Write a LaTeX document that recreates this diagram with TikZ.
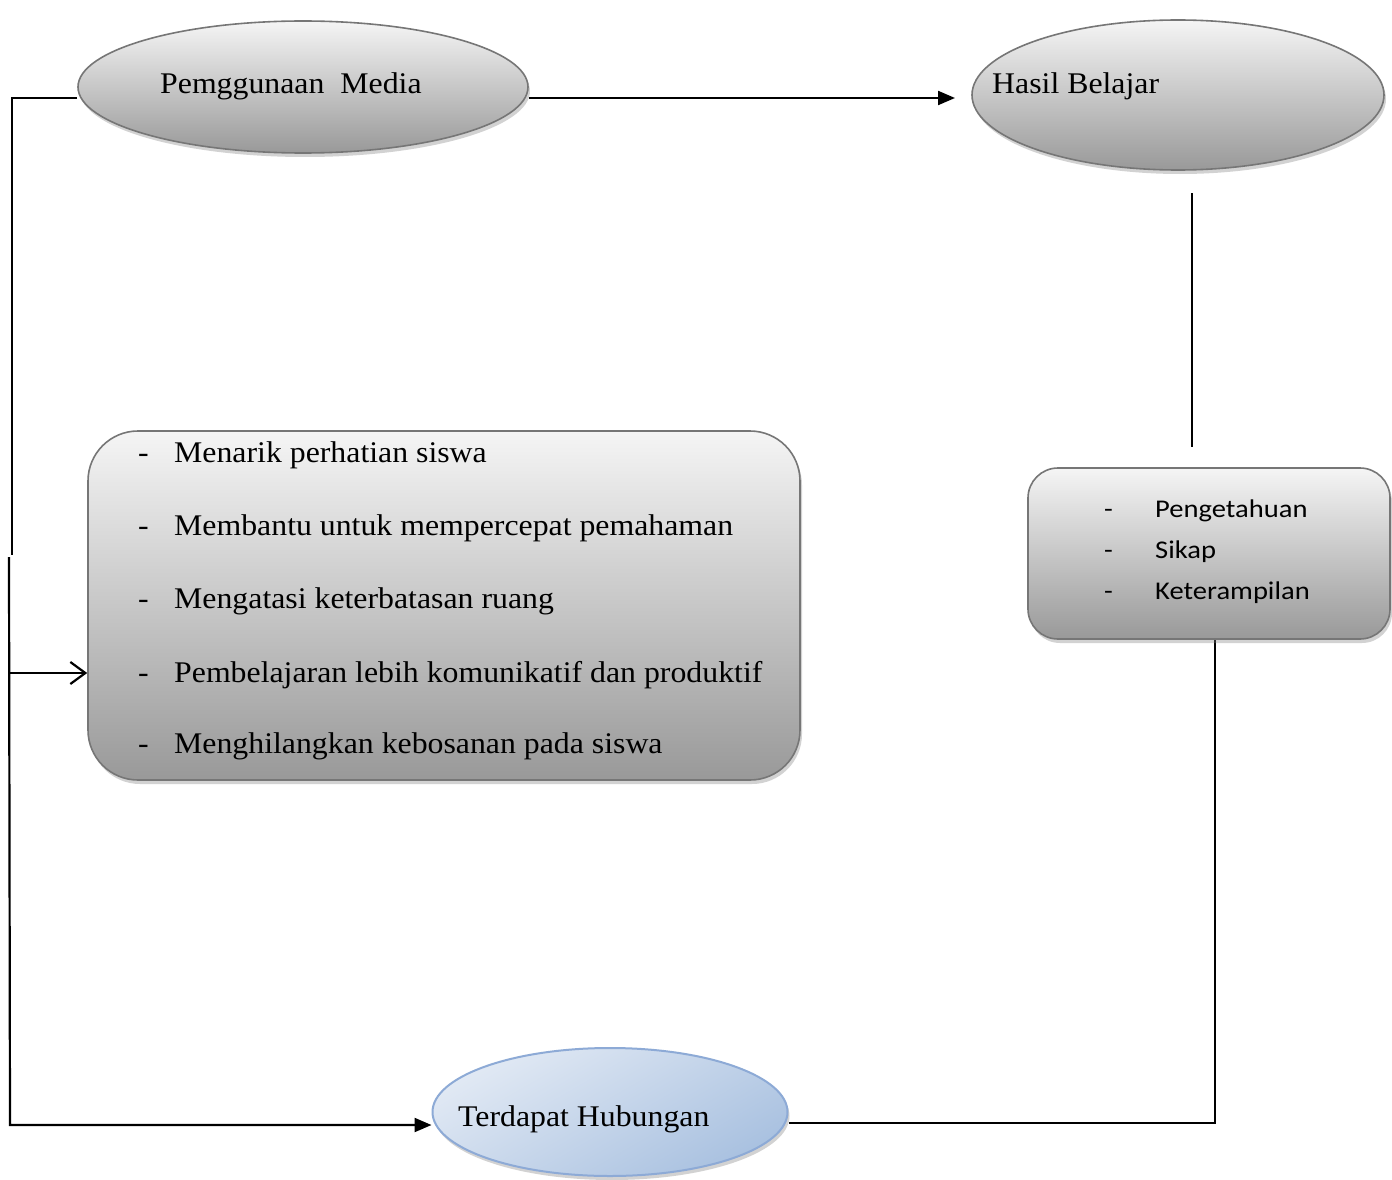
\documentclass[tikz,border=0pt]{standalone}
\usepackage{fontspec}
\setmainfont{Liberation Serif}[FakeStretch=1.06]
\newfontfamily\calfont{Carlito}[FakeStretch=1.12]
\usetikzlibrary{shapes.geometric,shadows,arrows.meta,backgrounds,calc}
\definecolor{bordergrey}{HTML}{767676}
\definecolor{bluetop}{HTML}{E1E9F4}
\definecolor{bluebot}{HTML}{A9C1E0}
\definecolor{blueborder}{HTML}{8DAAD6}
\begin{document}
\begin{tikzpicture}[x=1pt,y=-1pt,
  greyfill/.style={draw=bordergrey, line width=1.6pt, top color=white!96!black, bottom color=black!40,
     drop shadow={opacity=0.35, shadow xshift=2pt, shadow yshift=-4pt}},
  bluefill/.style={draw=blueborder, line width=2pt, top color=bluetop, bottom color=bluebot, shading angle=30,
     drop shadow={opacity=0.35, shadow xshift=2pt, shadow yshift=-4pt}},
  txt/.style={anchor=base west, inner sep=0pt, font=\fontsize{30}{36}\selectfont},
  caltxt/.style={anchor=base west, inner sep=0pt, font=\calfont\fontsize{25.5}{30}\selectfont},
  conn/.style={line width=2.2pt},
  solidtip/.style={-{Triangle[length=17pt,width=14pt]}},
  opentip/.style={-{Straight Barb[length=15pt,width=22pt]}}
]
\useasboundingbox (0,0) rectangle (1392,1180);

% nodes
\node[ellipse, greyfill, minimum width=450pt, minimum height=132pt, inner sep=0pt] (e1) at (303,87) {};
\node[ellipse, greyfill, minimum width=412pt, minimum height=150pt, inner sep=0pt] (e2) at (1178,95) {};
\node[rectangle, rounded corners=50pt, greyfill, minimum width=712pt, minimum height=349pt, inner sep=0pt] (b1) at (444,605.5) {};
\node[rectangle, rounded corners=30pt, greyfill, minimum width=362pt, minimum height=171pt, inner sep=0pt] (b2) at (1209,553.5) {};
\node[ellipse, bluefill, minimum width=355pt, minimum height=128pt, inner sep=0pt] (e3) at (610,1112) {};

% texts
\node[txt] (t1) at (160,94) {Pemggunaan\ \ Media};
\node[txt] (t2) at (992,94) {Hasil Belajar};
\node[txt] (t3) at (458,1126) {Terdapat Hubungan};

\node[txt] (d1) at (138,462) {-};
\node[txt] (l1) at (174,462) {Menarik perhatian siswa};
\node[txt] (d2) at (138,535) {-};
\node[txt] (l2) at (174,535) {Membantu untuk mempercepat pemahaman};
\node[txt] (d3) at (138,608) {-};
\node[txt] (l3) at (174,608) {Mengatasi keterbatasan ruang};
\node[txt] (d4) at (138,682) {-};
\node[txt] (l4) at (174,682) {Pembelajaran lebih komunikatif dan produktif};
\node[txt] (d5) at (138,753) {-};
\node[txt] (l5) at (174,753) {Menghilangkan kebosanan pada siswa};

\node[caltxt] (r1d) at (1104,517) {-};
\node[caltxt] (r1) at (1155,517) {Pengetahuan};
\node[caltxt] (r2d) at (1104,558) {-};
\node[caltxt] (r2) at (1155,558) {Sikap};
\node[caltxt] (r3d) at (1104,599) {-};
\node[caltxt] (r3) at (1155,599) {Keterampilan};

% coordinates
\coordinate (c1) at (12,98);
\coordinate (c2) at (12,555);
\coordinate (c3) at (9,557);
\coordinate (c4) at (10,1125);
\coordinate (c5) at (10,673);
\coordinate (a2) at (955,98);
\coordinate (h1) at (1192,193);
\coordinate (h2) at (1192,447);
\coordinate (v1) at (1215,639);
\coordinate (v2) at (1215,1123);

\begin{scope}[on background layer]
  \fill[white] (0,0) rectangle (1392,1180);
  \draw[conn] (e1.west |- c1) -- (c1) -- (c2);
  \draw[conn, solidtip] (c3) -- (c4) -- (c4 -| e3.west);
  \draw[conn, opentip] (c5) -- (c5 -| b1.west);
  \draw[conn, solidtip] (c1 -| e1.east) -- (a2);
  \draw[conn] (h1) -- (h2);
  \draw[conn] (v1) -- (v2) -- (v2 -| e3.east);
\end{scope}
\end{tikzpicture}
\end{document}
